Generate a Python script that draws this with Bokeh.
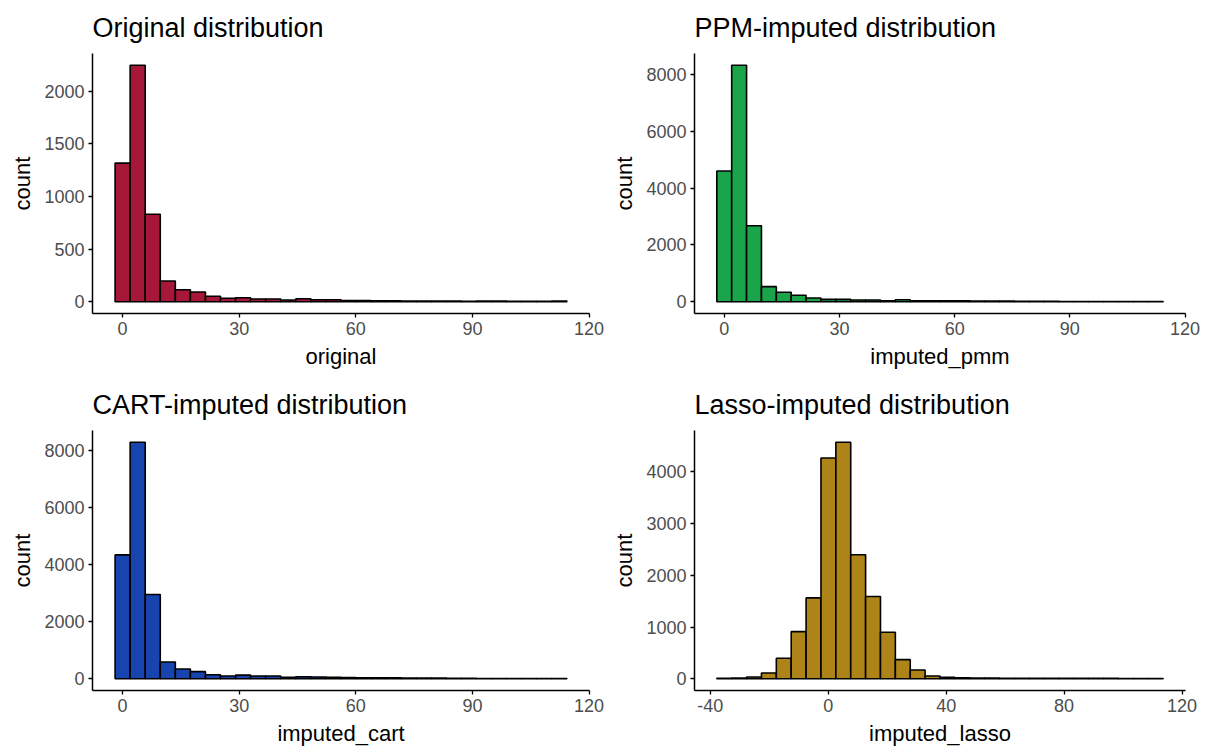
import numpy as np
from bokeh.plotting import figure
from bokeh.layouts import column, row
from bokeh.models import Range1d, FixedTicker
from bokeh.embed import file_html
from bokeh.resources import INLINE

# ---- data (histogram counts, 30 bins each) ----
original_counts = [1318, 2248, 832, 197, 114, 92, 51, 32, 38, 25, 25, 16, 28, 19, 19,
                   10, 10, 8, 8, 6, 6, 5, 5, 3, 5, 5, 3, 3, 3, 6]
pmm_counts = [4608, 8330, 2675, 530, 332, 226, 130, 82, 82, 60, 60, 35, 70, 35, 35,
              30, 30, 20, 25, 20, 15, 15, 15, 8, 8, 8, 5, 5, 5, 5]
cart_counts = [4337, 8280, 2947, 582, 337, 246, 140, 93, 125, 93, 93, 47, 70, 58, 45,
               40, 35, 30, 35, 25, 20, 20, 15, 10, 8, 8, 5, 5, 5, 5]
lasso_counts = [6, 13, 32, 110, 394, 911, 1563, 4270, 4574, 2397, 1589, 898, 368, 168, 52,
                26, 19, 13, 13, 6, 6, 5, 5, 5, 5, 8, 5, 3, 3, 3]

# bin range (left edge of first bin, right edge of last bin)
original_range = (-1.93, 114.3)
pmm_range = (-1.93, 114.3)
cart_range = (-1.93, 114.3)
lasso_range = (-37.8, 113.6)

titles = ["Original distribution", "PPM-imputed distribution",
          "CART-imputed distribution", "Lasso-imputed distribution"]
xlabels = ["original", "imputed_pmm", "imputed_cart", "imputed_lasso"]
x_ticks_skew = [0, 30, 60, 90, 120]
x_ticks_lasso = [-40, 0, 40, 80, 120]
y_ticks_original = [0, 500, 1000, 1500, 2000]
y_ticks_imputed = [0, 2000, 4000, 6000, 8000]
y_ticks_lasso = [0, 1000, 2000, 3000, 4000]
colors = ["#A6173A", "#1BA54A", "#1744AE", "#AE8418"]

FONT = "Liberation Sans"


def make_hist(counts, brange, title, xlabel, xticks, yticks, color,
              width, height, bl, br, bt, bb):
    counts = np.asarray(counts, dtype=float)
    edges = np.linspace(brange[0], brange[1], len(counts) + 1)
    span = brange[1] - brange[0]
    ymax = counts.max()
    p = figure(width=width, height=height, output_backend="svg",
               toolbar_location=None,
               x_range=Range1d(brange[0] - 0.05 * span, brange[1] + 0.05 * span),
               y_range=Range1d(-0.05 * ymax, 1.05 * ymax),
               min_border_left=bl, min_border_right=br,
               min_border_top=bt, min_border_bottom=bb)
    p.quad(left=edges[:-1], right=edges[1:], top=counts, bottom=0,
           fill_color=color, line_color="black", line_width=1.6)
    p.title.text = title
    p.title.text_font = FONT
    p.title.text_font_size = "27px"
    p.title.text_font_style = "normal"
    p.title.text_color = "black"
    p.title.align = "left"
    p.title.standoff = 21
    p.outline_line_color = None
    p.xgrid.visible = False
    p.ygrid.visible = False
    p.background_fill_color = "white"
    p.border_fill_color = "white"
    p.xaxis.ticker = FixedTicker(ticks=xticks)
    p.yaxis.ticker = FixedTicker(ticks=yticks)
    p.xaxis.major_label_overrides = {t: str(t) for t in xticks}
    p.xaxis.axis_label = xlabel
    p.yaxis.axis_label = "count"
    for ax in (p.xaxis[0], p.yaxis[0]):
        ax.axis_line_color = "black"
        ax.axis_line_width = 1.5
        ax.major_tick_line_color = "black"
        ax.major_tick_line_width = 1.3
        ax.major_tick_in = 0
        ax.major_tick_out = 4
        ax.minor_tick_line_color = None
        ax.major_label_text_font = FONT
        ax.major_label_text_font_size = "18px"
        ax.major_label_text_color = "#4D4D4D"
        ax.major_label_standoff = 4
        ax.axis_label_text_font = FONT
        ax.axis_label_text_font_size = "22px"
        ax.axis_label_text_font_style = "normal"
        ax.axis_label_text_color = "black"
        ax.axis_label_standoff = 6
    return p


p1 = make_hist(original_counts, original_range, titles[0], xlabels[0], x_ticks_skew,
               y_ticks_original, colors[0], 609, 372, 92, 20, 53, 59)
p2 = make_hist(pmm_counts, pmm_range, titles[1], xlabels[1], x_ticks_skew,
               y_ticks_imputed, colors[1], 610, 372, 85, 34, 53, 59)
p3 = make_hist(cart_counts, cart_range, titles[2], xlabels[2], x_ticks_skew,
               y_ticks_imputed, colors[2], 609, 377, 92, 20, 58, 59)
p4 = make_hist(lasso_counts, lasso_range, titles[3], xlabels[3], x_ticks_lasso,
               y_ticks_lasso, colors[3], 610, 377, 85, 34, 58, 59)

layout = column(row(p1, p2, spacing=0), row(p3, p4, spacing=0), spacing=0)
open("out.html", "w").write(file_html(layout, INLINE))
